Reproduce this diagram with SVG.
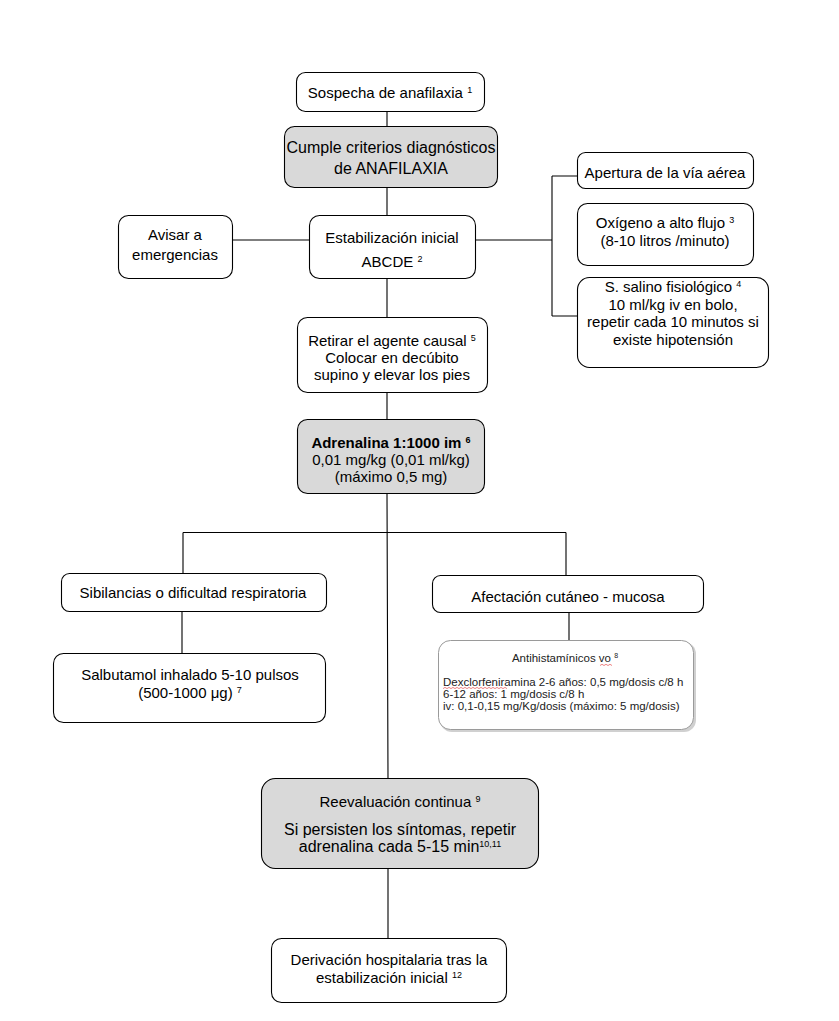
<svg xmlns="http://www.w3.org/2000/svg" width="839" height="1021" viewBox="0 0 839 1021">
<style>
.n{fill:#fff;stroke:#000;stroke-width:1.1}
.g{fill:#d9d9d9;stroke:#000;stroke-width:1.1}
.t{font-family:"Liberation Sans",Arial,sans-serif;font-size:15px;fill:#000;text-anchor:middle}
.tl{font-size:16px}
.s{font-size:9px}
.c{stroke:#000;stroke-width:1.1;fill:none}
.a{font-family:"Liberation Sans",Arial,sans-serif;font-size:11.5px;fill:#222}
.sq{fill:none;stroke:#e03030;stroke-width:0.6}
</style>
<rect width="839" height="1021" fill="#fff"/>
<g id="connectors">
<path class="c" d="M387 112V126M387 188V215M233 240H310M476 240H552M552 176V316M552 176H577M552 316H577M387 279V317M387 393V419M387 494L388 778M183 532.5H566M183 532.5V573M566 532.5V575M182 612V653M569 613V640M388 869V938"/>
</g>
<g id="n1"><rect class="n" x="296.5" y="72.5" width="188" height="39" rx="9"/>
<text class="t" x="390" y="98">Sospecha de anafilaxia <tspan class="s" dy="-5">1</tspan></text></g>
<g id="n2"><rect class="g" x="284.5" y="126.5" width="213" height="61" rx="10"/>
<text class="t tl" x="391" y="153">Cumple criterios diagnósticos</text>
<text class="t tl" x="391" y="174">de ANAFILAXIA</text></g>
<g id="n3"><rect class="n" x="118.5" y="215.5" width="114" height="63" rx="10"/>
<text class="t" x="175" y="240">Avisar a</text>
<text class="t" x="175" y="260">emergencias</text></g>
<g id="n4"><rect class="n" x="309.5" y="215.5" width="166" height="63" rx="10"/>
<text class="t" x="392" y="243">Estabilización inicial</text>
<text class="t" x="392" y="267">ABCDE <tspan class="s" dy="-5">2</tspan></text></g>
<g id="n5"><rect class="n" x="577.5" y="152.5" width="176" height="36" rx="8"/>
<text class="t" x="665" y="178">Apertura de la vía aérea</text></g>
<g id="n6"><rect class="n" x="577.5" y="203.5" width="176" height="62" rx="10"/>
<text class="t" x="665" y="228">Oxígeno a alto flujo <tspan class="s" dy="-5">3</tspan></text>
<text class="t" x="665" y="246">(8-10 litros /minuto)</text></g>
<g id="n7"><rect class="n" x="577.5" y="277.5" width="191" height="90" rx="12"/>
<text class="t" x="673" y="292">S. salino fisiológico <tspan class="s" dy="-5">4</tspan></text>
<text class="t" x="673" y="310">10 ml/kg iv en bolo,</text>
<text class="t" x="673" y="327">repetir cada 10 minutos si</text>
<text class="t" x="673" y="345">existe hipotensión</text></g>
<g id="n8"><rect class="n" x="297.5" y="317.5" width="190" height="75" rx="10"/>
<text class="t" x="392" y="346">Retirar el agente causal <tspan class="s" dy="-5">5</tspan></text>
<text class="t" x="392" y="363">Colocar en decúbito</text>
<text class="t" x="392" y="380">supino y elevar los pies</text></g>
<g id="n9"><rect class="g" x="297.5" y="419.5" width="187" height="74" rx="10"/>
<text class="t" x="391" y="448" font-weight="bold">Adrenalina 1:1000 im <tspan class="s" dy="-5">6</tspan></text>
<text class="t" x="391" y="465">0,01 mg/kg (0,01 ml/kg)</text>
<text class="t" x="391" y="482">(máximo 0,5 mg)</text></g>
<g id="n10"><rect class="n" x="61.5" y="573.5" width="265" height="38" rx="8"/>
<text class="t" x="193" y="598">Sibilancias o dificultad respiratoria</text></g>
<g id="n11"><rect class="n" x="53.5" y="653.5" width="272" height="69" rx="10"/>
<text class="t" x="190" y="680">Salbutamol inhalado 5-10 pulsos</text>
<text class="t" x="190" y="698">(500-1000 μg) <tspan class="s" dy="-5">7</tspan></text></g>
<g id="n12"><rect class="n" x="432.5" y="575.5" width="271" height="37" rx="8"/>
<text class="t" x="568" y="602">Afectación cutáneo - mucosa</text></g>
<g id="n13">
<rect x="440" y="642" width="256" height="90" rx="12" fill="#d0d0d0"/>
<rect x="438.5" y="640.5" width="255" height="89" rx="12" fill="#fff" stroke="#9a9a9a" stroke-width="1"/>
<text class="a" x="565" y="662" text-anchor="middle">Antihistamínicos vo <tspan font-size="7" dy="-4">8</tspan></text>
<text class="a" x="443" y="685.5">Dexclorfeniramina 2-6 años: 0,5 mg/dosis c/8 h</text>
<text class="a" x="443" y="698">6-12 años: 1 mg/dosis c/8 h</text>
<text class="a" x="443" y="710">iv: 0,1-0,15 mg/Kg/dosis (máximo: 5 mg/dosis)</text>
<path class="sq" d="M443 688.6l2 -1.2l2 1.2l2 -1.2l2 1.2l2 -1.2l2 1.2l2 -1.2l2 1.2l2 -1.2l2 1.2l2 -1.2l2 1.2l2 -1.2l2 1.2l2 -1.2l2 1.2l2 -1.2l2 1.2l2 -1.2l2 1.2l2 -1.2l2 1.2l2 -1.2l2 1.2l2 -1.2l2 1.2l2 -1.2l2 1.2l2 -1.2l2 1.2l2 -1.2l2 1.2"/>
<path class="sq" d="M600 665.5l2 -1.2l2 1.2l2 -1.2l2 1.2l2 -1.2l2 1.2"/>
</g>
<g id="n14"><rect class="g" x="261.5" y="778.5" width="277" height="90" rx="14"/>
<text class="t" x="400" y="807">Reevaluación continua <tspan class="s" dy="-5">9</tspan></text>
<text class="t tl" x="400" y="835">Si persisten los síntomas, repetir</text>
<text class="t tl" x="400" y="852">adrenalina cada 5-15 min<tspan class="s" dy="-5">10,11</tspan></text></g>
<g id="n15"><rect class="n" x="271.5" y="938.5" width="235" height="64" rx="10"/>
<text class="t" x="389" y="965">Derivación hospitalaria tras la</text>
<text class="t" x="389" y="983">estabilización inicial <tspan class="s" dy="-5">12</tspan></text></g>
</svg>
